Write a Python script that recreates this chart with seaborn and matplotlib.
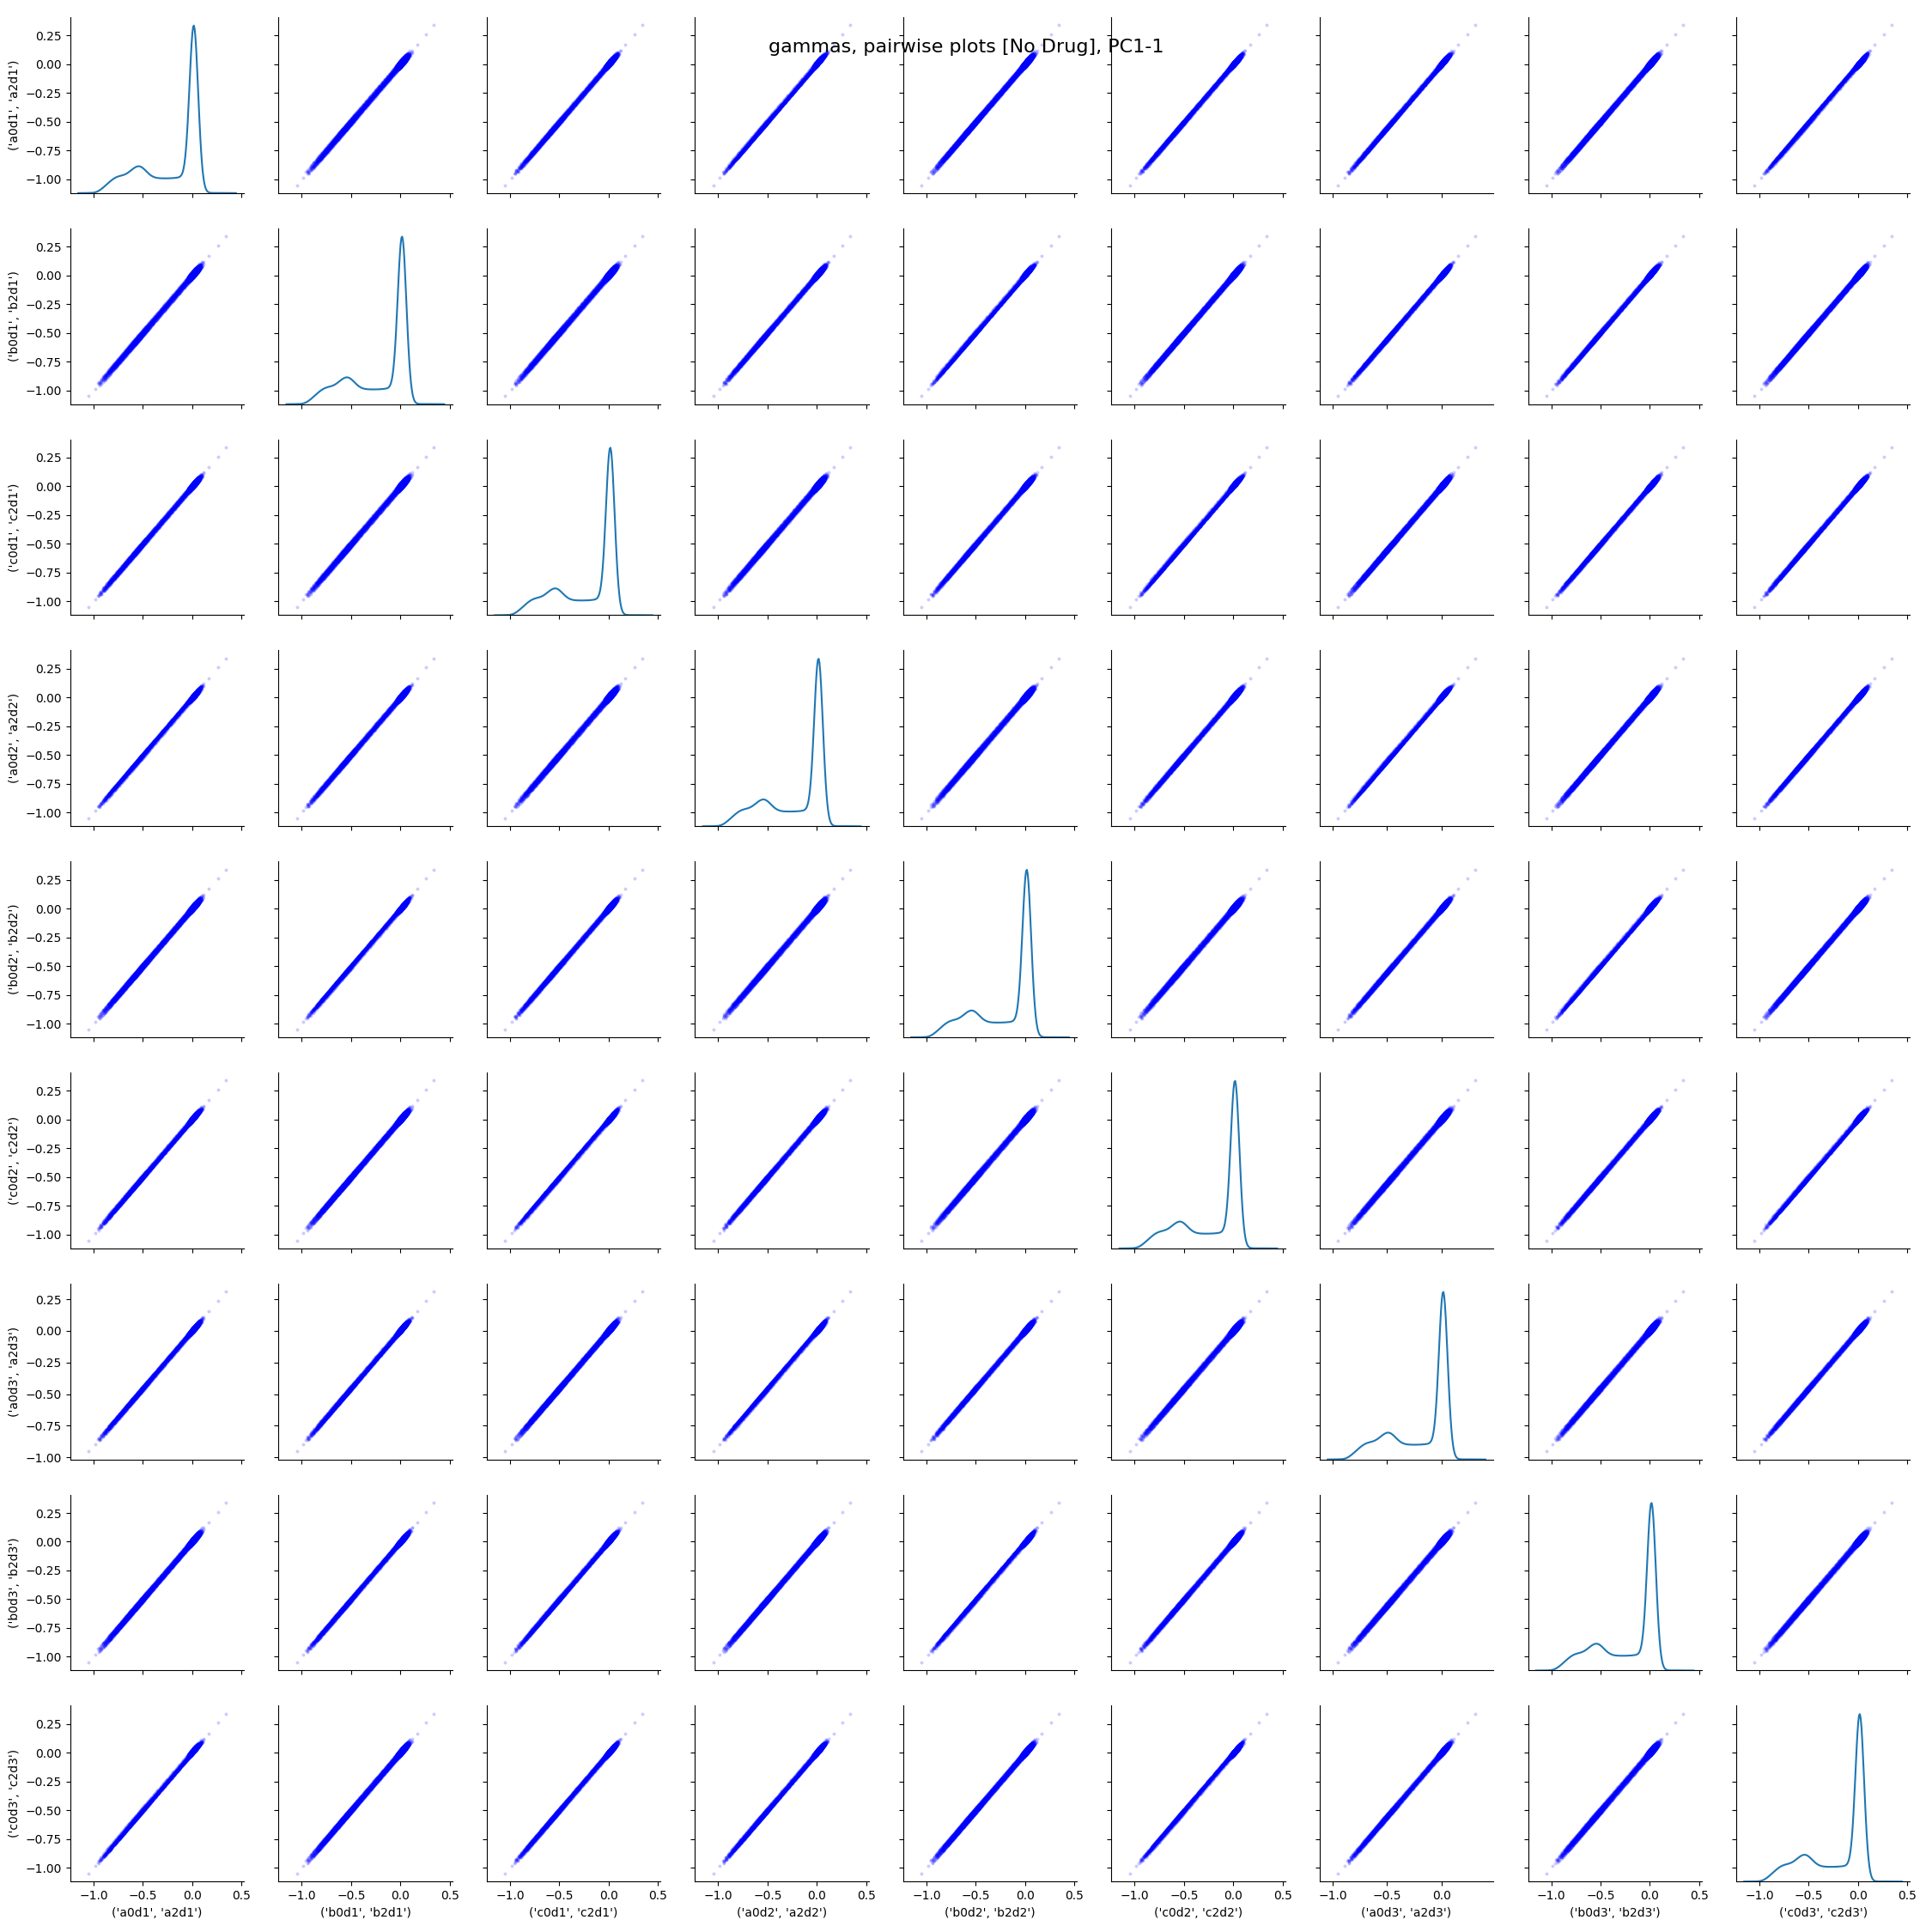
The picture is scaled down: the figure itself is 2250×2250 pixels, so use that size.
import numpy as np
import pandas as pd
import matplotlib
matplotlib.use("Agg")
import matplotlib.pyplot as plt
from matplotlib.ticker import MultipleLocator
import seaborn as sns

# Nomes das colunas (pares de parametros)
columns = [
    "('a0d1', 'a2d1')", "('b0d1', 'b2d1')", "('c0d1', 'c2d1')",
    "('a0d2', 'a2d2')", "('b0d2', 'b2d2')", "('c0d2', 'c2d2')",
    "('a0d3', 'a2d3')", "('b0d3', 'b2d3')", "('c0d3', 'c2d3')",
]

# Distribuicao (histograma aproximado)
spread_centers = [-0.925, -0.875, -0.825, -0.775, -0.725, -0.675, -0.625, -0.575, -0.525,
                  -0.475, -0.425, -0.375, -0.325, -0.275, -0.225, -0.175, -0.125, -0.075]
spread_counts = [18, 42, 68, 88, 95, 98, 120, 145, 155, 125, 94, 82, 80, 80, 80, 82, 85, 90]
spread_width = 0.05

peak_centers = [-0.04, -0.02, 0.00, 0.02, 0.04, 0.06, 0.08, 0.10]
peak_counts = [60, 200, 500, 650, 420, 150, 40, 8]
peak_width = 0.02

outliers = [-1.05, -0.985, 0.12, 0.17, 0.26, 0.34]

# Pequenos desvios entre colunas (espessura da faixa)
offsets = [0.0, 0.012, -0.009, 0.005, -0.013, 0.008, -0.004, 0.011, -0.007, 0.002, -0.010]

# Escala de cada coluna em relacao ao centro do pico
var_scale = [1.0, 1.0, 1.0, 1.0, 1.0, 1.0, 0.91, 1.0, 1.0]
pivot = 0.02


def bin_values(centers, counts, width):
    vals = []
    for c, n in zip(centers, counts):
        lo = c - width / 2
        vals.extend(lo + (np.arange(n) + 0.5) / n * width)
    return np.array(vals)


base = np.concatenate([bin_values(spread_centers, spread_counts, spread_width),
                       bin_values(peak_centers, peak_counts, peak_width)])
idx = np.arange(len(base))

data = {}
for j, col in enumerate(columns):
    dev = np.array([offsets[(i + 3 * j) % len(offsets)] for i in idx])
    v = np.concatenate([base + dev, np.array(outliers)])
    data[col] = pivot + (v - pivot) * var_scale[j]

df = pd.DataFrame(data)

g = sns.pairplot(df, diag_kind="kde", height=2.5,
                 plot_kws=dict(s=8, alpha=0.2, color="blue", linewidth=0),
                 diag_kws=dict(bw_adjust=0.62, fill=False))

# Espacamento parecido com o original
g.fig.subplots_adjust(left=0.0364, right=0.9885, bottom=0.0261, top=0.9911,
                      wspace=0.2, hspace=0.2)
for ax in g.axes.flat:
    ax.xaxis.set_major_locator(MultipleLocator(0.5))
for ax in g.axes[:, 0]:
    ax.yaxis.set_major_locator(MultipleLocator(0.25))

g.fig.suptitle("gammas, pairwise plots [No Drug], PC1-1", fontsize=16)
g.fig.savefig("out.png", dpi=100)
